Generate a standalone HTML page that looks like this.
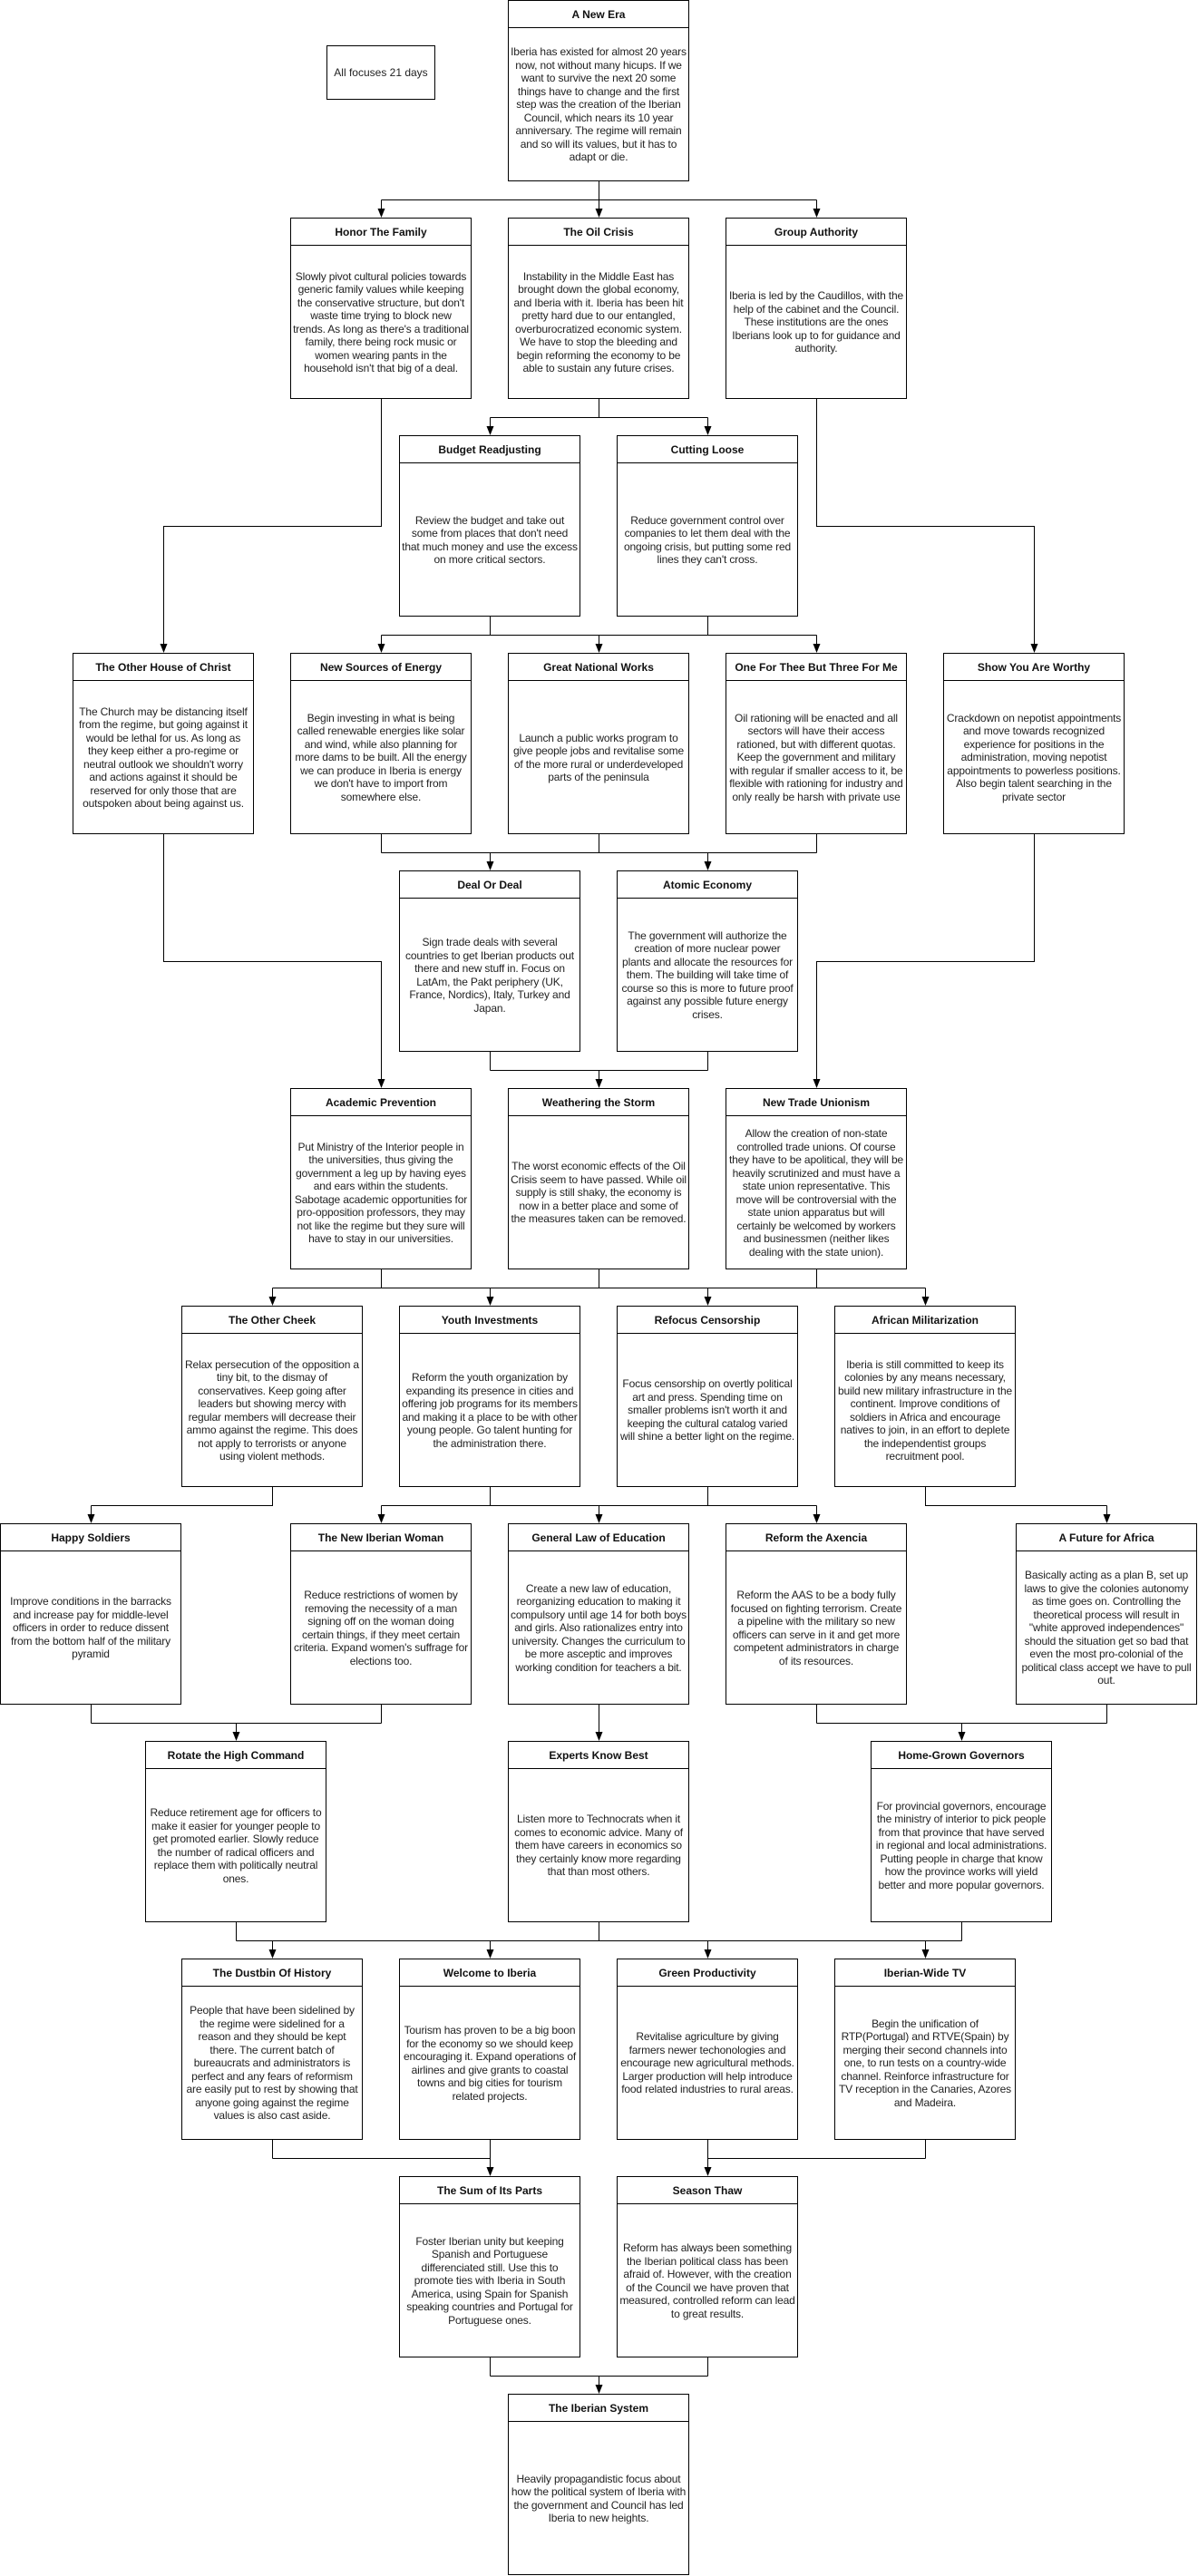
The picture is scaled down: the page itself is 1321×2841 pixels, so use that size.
<!DOCTYPE html>
<html><head><meta charset="utf-8">
<style>
html,body{margin:0;padding:0;background:#fff;}
body{width:1321px;height:2841px;position:relative;overflow:hidden;font-family:"Liberation Sans",Arial,sans-serif;}
.b{position:absolute;width:200px;height:200px;box-sizing:border-box;border:1px solid #000;background:#fff;}
.h{height:30px;border-bottom:1px solid #000;box-sizing:border-box;display:flex;align-items:center;justify-content:center;font-weight:bold;font-size:12px;color:#111;text-align:center;}
.t{height:169px;display:flex;align-items:center;justify-content:center;text-align:center;font-size:12px;letter-spacing:-0.15px;line-height:14.5px;color:#222;padding:0 2px;box-sizing:border-box;}
svg{position:absolute;left:0;top:0;}
</style></head><body>
<svg width="1321" height="2841" xmlns="http://www.w3.org/2000/svg">
<g stroke="#000" stroke-width="1" fill="none">
<path d="M660.5 200V220.5M420.5 220.5H900.5"/>
<path d="M660.5 440V460.5M540.5 460.5H780.5"/>
<path d="M420.5 440V580.5H180.5V710"/>
<path d="M900.5 440V580.5H1140.5V710"/>
<path d="M540.5 680V700.5M780.5 680V700.5M420.5 700.5H900.5"/>
<path d="M420.5 920V940.5M660.5 920V940.5M900.5 920V940.5M420.5 940.5H900.5"/>
<path d="M180.5 920V1060.5H420.5V1190"/>
<path d="M1140.5 920V1060.5H900.5V1190"/>
<path d="M540.5 1160V1180.5M780.5 1160V1180.5M540.5 1180.5H780.5"/>
<path d="M420.5 1400V1420.5M660.5 1400V1420.5M900.5 1400V1420.5M300.5 1420.5H1020.5"/>
<path d="M300.5 1640V1660.5H100.5"/>
<path d="M540.5 1640V1660.5M780.5 1640V1660.5M420.5 1660.5H900.5"/>
<path d="M1020.5 1640V1660.5H1220.5"/>
<path d="M100.5 1880V1900.5M420.5 1880V1900.5M100.5 1900.5H420.5"/>
<path d="M900.5 1880V1900.5M1220.5 1880V1900.5M900.5 1900.5H1220.5"/>
<path d="M260.5 2120V2140.5M660.5 2120V2140.5M1060.5 2120V2140.5M260.5 2140.5H1060.5"/>
<path d="M300.5 2360V2380.5M540.5 2360V2380.5M300.5 2380.5H540.5"/>
<path d="M780.5 2360V2380.5M1020.5 2360V2380.5M780.5 2380.5H1020.5"/>
<path d="M540.5 2600V2620.5M780.5 2600V2620.5M540.5 2620.5H780.5"/>
</g>
<g stroke="#000" stroke-width="1">
<path d="M420.5 220.5V232M660.5 220.5V232M900.5 220.5V232"/>
<path d="M540.5 460.5V472M780.5 460.5V472"/>
<path d="M420.5 700.5V712M660.5 700.5V712M900.5 700.5V712"/>
<path d="M540.5 940.5V952M780.5 940.5V952"/>
<path d="M660.5 1180.5V1192"/>
<path d="M300.5 1420.5V1432M540.5 1420.5V1432M780.5 1420.5V1432M1020.5 1420.5V1432"/>
<path d="M100.5 1660.5V1672M420.5 1660.5V1672M660.5 1660.5V1672M900.5 1660.5V1672M1220.5 1660.5V1672"/>
<path d="M260.5 1900.5V1912M660.5 1880V1912M1060.5 1900.5V1912"/>
<path d="M300.5 2140.5V2152M540.5 2140.5V2152M780.5 2140.5V2152M1020.5 2140.5V2152"/>
<path d="M540.5 2380.5V2392M780.5 2380.5V2392"/>
<path d="M660.5 2620.5V2632"/>
</g>
<g fill="#000" id="heads"></g>
</svg>
<script>
(function(){
var pts=[[420,240],[660,240],[900,240],[540,480],[780,480],[180,720],[420,720],[660,720],[900,720],[1140,720],[540,960],[780,960],[420,1200],[660,1200],[900,1200],[300,1440],[540,1440],[780,1440],[1020,1440],[100,1680],[420,1680],[660,1680],[900,1680],[1220,1680],[260,1920],[660,1920],[1060,1920],[300,2160],[540,2160],[780,2160],[1020,2160],[540,2400],[780,2400],[660,2640]];
var g=document.getElementById('heads');var s='';
pts.forEach(function(p){var x=p[0]+0.5,y=p[1];s+='<polygon points="'+(x-4)+','+(y-10)+' '+(x+4)+','+(y-10)+' '+x+','+y+'"/>';});
g.innerHTML=s;
})();
</script>

<div class="b" style="left:360px;top:50px;width:120px;height:60px;display:flex;align-items:center;justify-content:center;font-size:12px;color:#222;">All focuses 21 days</div>

<div class="b" style="left:560px;top:0"><div class="h">A New Era</div><div class="t">Iberia has existed for almost 20 years now, not without many hicups. If we want to survive the next 20 some things have to change and the first step was the creation of the Iberian Council, which nears its 10 year anniversary. The regime will remain and so will its values, but it has to adapt or die.</div></div>

<div class="b" style="left:320px;top:240px"><div class="h">Honor The Family</div><div class="t">Slowly pivot cultural policies towards generic family values while keeping the conservative structure, but don't waste time trying to block new trends. As long as there's a traditional family, there being rock music or women wearing pants in the household isn't that big of a deal.</div></div>
<div class="b" style="left:560px;top:240px"><div class="h">The Oil Crisis</div><div class="t">Instability in the Middle East has brought down the global economy, and Iberia with it. Iberia has been hit pretty hard due to our entangled, overburocratized economic system. We have to stop the bleeding and begin reforming the economy to be able to sustain any future crises.</div></div>
<div class="b" style="left:800px;top:240px"><div class="h">Group Authority</div><div class="t">Iberia is led by the Caudillos, with the help of the cabinet and the Council. These institutions are the ones Iberians look up to for guidance and authority.</div></div>

<div class="b" style="left:440px;top:480px"><div class="h">Budget Readjusting</div><div class="t">Review the budget and take out some from places that don't need that much money and use the excess on more critical sectors.</div></div>
<div class="b" style="left:680px;top:480px"><div class="h">Cutting Loose</div><div class="t">Reduce government control over companies to let them deal with the ongoing crisis, but putting some red lines they can't cross.</div></div>

<div class="b" style="left:80px;top:720px"><div class="h">The Other House of Christ</div><div class="t">The Church may be distancing itself from the regime, but going against it would be lethal for us. As long as they keep either a pro-regime or neutral outlook we shouldn't worry and actions against it should be reserved for only those that are outspoken about being against us.</div></div>
<div class="b" style="left:320px;top:720px"><div class="h">New Sources of Energy</div><div class="t">Begin investing in what is being called renewable energies like solar and wind, while also planning for more dams to be built. All the energy we can produce in Iberia is energy we don't have to import from somewhere else.</div></div>
<div class="b" style="left:560px;top:720px"><div class="h">Great National Works</div><div class="t">Launch a public works program to give people jobs and revitalise some of the more rural or underdeveloped parts of the peninsula</div></div>
<div class="b" style="left:800px;top:720px"><div class="h">One For Thee But Three For Me</div><div class="t">Oil rationing will be enacted and all sectors will have their access rationed, but with different quotas. Keep the government and military with regular if smaller access to it, be flexible with rationing for industry and only really be harsh with private use</div></div>
<div class="b" style="left:1040px;top:720px"><div class="h">Show You Are Worthy</div><div class="t">Crackdown on nepotist appointments and move towards recognized experience for positions in the administration, moving nepotist appointments to powerless positions. Also begin talent searching in the private sector</div></div>

<div class="b" style="left:440px;top:960px"><div class="h">Deal Or Deal</div><div class="t">Sign trade deals with several countries to get Iberian products out there and new stuff in. Focus on LatAm, the Pakt periphery (UK, France, Nordics), Italy, Turkey and Japan.</div></div>
<div class="b" style="left:680px;top:960px"><div class="h">Atomic Economy</div><div class="t">The government will authorize the creation of more nuclear power plants and allocate the resources for them. The building will take time of course so this is more to future proof against any possible future energy crises.</div></div>

<div class="b" style="left:320px;top:1200px"><div class="h">Academic Prevention</div><div class="t">Put Ministry of the Interior people in the universities, thus giving the government a leg up by having eyes and ears within the students. Sabotage academic opportunities for pro-opposition professors, they may not like the regime but they sure will have to stay in our universities.</div></div>
<div class="b" style="left:560px;top:1200px"><div class="h">Weathering the Storm</div><div class="t">The worst economic effects of the Oil Crisis seem to have passed. While oil supply is still shaky, the economy is now in a better place and some of the measures taken can be removed.</div></div>
<div class="b" style="left:800px;top:1200px"><div class="h">New Trade Unionism</div><div class="t">Allow the creation of non-state controlled trade unions. Of course they have to be apolitical, they will be heavily scrutinized and must have a state union representative. This move will be controversial with the state union apparatus but will certainly be welcomed by workers and businessmen (neither likes dealing with the state union).</div></div>

<div class="b" style="left:200px;top:1440px"><div class="h">The Other Cheek</div><div class="t">Relax persecution of the opposition a tiny bit, to the dismay of conservatives. Keep going after leaders but showing mercy with regular members will decrease their ammo against the regime. This does not apply to terrorists or anyone using violent methods.</div></div>
<div class="b" style="left:440px;top:1440px"><div class="h">Youth Investments</div><div class="t">Reform the youth organization by expanding its presence in cities and offering job programs for its members and making it a place to be with other young people. Go talent hunting for the administration there.</div></div>
<div class="b" style="left:680px;top:1440px"><div class="h">Refocus Censorship</div><div class="t">Focus censorship on overtly political art and press. Spending time on smaller problems isn't worth it and keeping the cultural catalog varied will shine a better light on the regime.</div></div>
<div class="b" style="left:920px;top:1440px"><div class="h">African Militarization</div><div class="t">Iberia is still committed to keep its colonies by any means necessary, build new military infrastructure in the continent. Improve conditions of soldiers in Africa and encourage natives to join, in an effort to deplete the independentist groups recruitment pool.</div></div>

<div class="b" style="left:0px;top:1680px"><div class="h">Happy Soldiers</div><div class="t">Improve conditions in the barracks and increase pay for middle-level officers in order to reduce dissent from the bottom half of the military pyramid</div></div>
<div class="b" style="left:320px;top:1680px"><div class="h">The New Iberian Woman</div><div class="t">Reduce restrictions of women by removing the necessity of a man signing off on the woman doing certain things, if they meet certain criteria. Expand women's suffrage for elections too.</div></div>
<div class="b" style="left:560px;top:1680px"><div class="h">General Law of Education</div><div class="t">Create a new law of education, reorganizing education to making it compulsory until age 14 for both boys and girls. Also rationalizes entry into university. Changes the curriculum to be more asceptic and improves working condition for teachers a bit.</div></div>
<div class="b" style="left:800px;top:1680px"><div class="h">Reform the Axencia</div><div class="t">Reform the AAS to be a body fully focused on fighting terrorism. Create a pipeline with the military so new officers can serve in it and get more competent administrators in charge of its resources.</div></div>
<div class="b" style="left:1120px;top:1680px"><div class="h">A Future for Africa</div><div class="t">Basically acting as a plan B, set up laws to give the colonies autonomy as time goes on. Controlling the theoretical process will result in "white approved independences" should the situation get so bad that even the most pro-colonial of the political class accept we have to pull out.</div></div>

<div class="b" style="left:160px;top:1920px"><div class="h">Rotate the High Command</div><div class="t">Reduce retirement age for officers to make it easier for younger people to get promoted earlier. Slowly reduce the number of radical officers and replace them with politically neutral ones.</div></div>
<div class="b" style="left:560px;top:1920px"><div class="h">Experts Know Best</div><div class="t">Listen more to Technocrats when it comes to economic advice. Many of them have careers in economics so they certainly know more regarding that than most others.</div></div>
<div class="b" style="left:960px;top:1920px"><div class="h">Home-Grown Governors</div><div class="t">For provincial governors, encourage the ministry of interior to pick people from that province that have served in regional and local administrations. Putting people in charge that know how the province works will yield better and more popular governors.</div></div>

<div class="b" style="left:200px;top:2160px"><div class="h">The Dustbin Of History</div><div class="t">People that have been sidelined by the regime were sidelined for a reason and they should be kept there. The current batch of bureaucrats and administrators is perfect and any fears of reformism are easily put to rest by showing that anyone going against the regime values is also cast aside.</div></div>
<div class="b" style="left:440px;top:2160px"><div class="h">Welcome to Iberia</div><div class="t">Tourism has proven to be a big boon for the economy so we should keep encouraging it. Expand operations of airlines and give grants to coastal towns and big cities for tourism related projects.</div></div>
<div class="b" style="left:680px;top:2160px"><div class="h">Green Productivity</div><div class="t">Revitalise agriculture by giving farmers newer techonologies and encourage new agricultural methods. Larger production will help introduce food related industries to rural areas.</div></div>
<div class="b" style="left:920px;top:2160px"><div class="h">Iberian-Wide TV</div><div class="t">Begin the unification of RTP(Portugal) and RTVE(Spain) by merging their second channels into one, to run tests on a country-wide channel. Reinforce infrastructure for TV reception in the Canaries, Azores and Madeira.</div></div>

<div class="b" style="left:440px;top:2400px"><div class="h">The Sum of Its Parts</div><div class="t">Foster Iberian unity but keeping Spanish and Portuguese differenciated still. Use this to promote ties with Iberia in South America, using Spain for Spanish speaking countries and Portugal for Portuguese ones.</div></div>
<div class="b" style="left:680px;top:2400px"><div class="h">Season Thaw</div><div class="t">Reform has always been something the Iberian political class has been afraid of. However, with the creation of the Council we have proven that measured, controlled reform can lead to great results.</div></div>

<div class="b" style="left:560px;top:2640px"><div class="h">The Iberian System</div><div class="t">Heavily propagandistic focus about how the political system of Iberia with the government and Council has led Iberia to new heights.</div></div>
</body></html>
